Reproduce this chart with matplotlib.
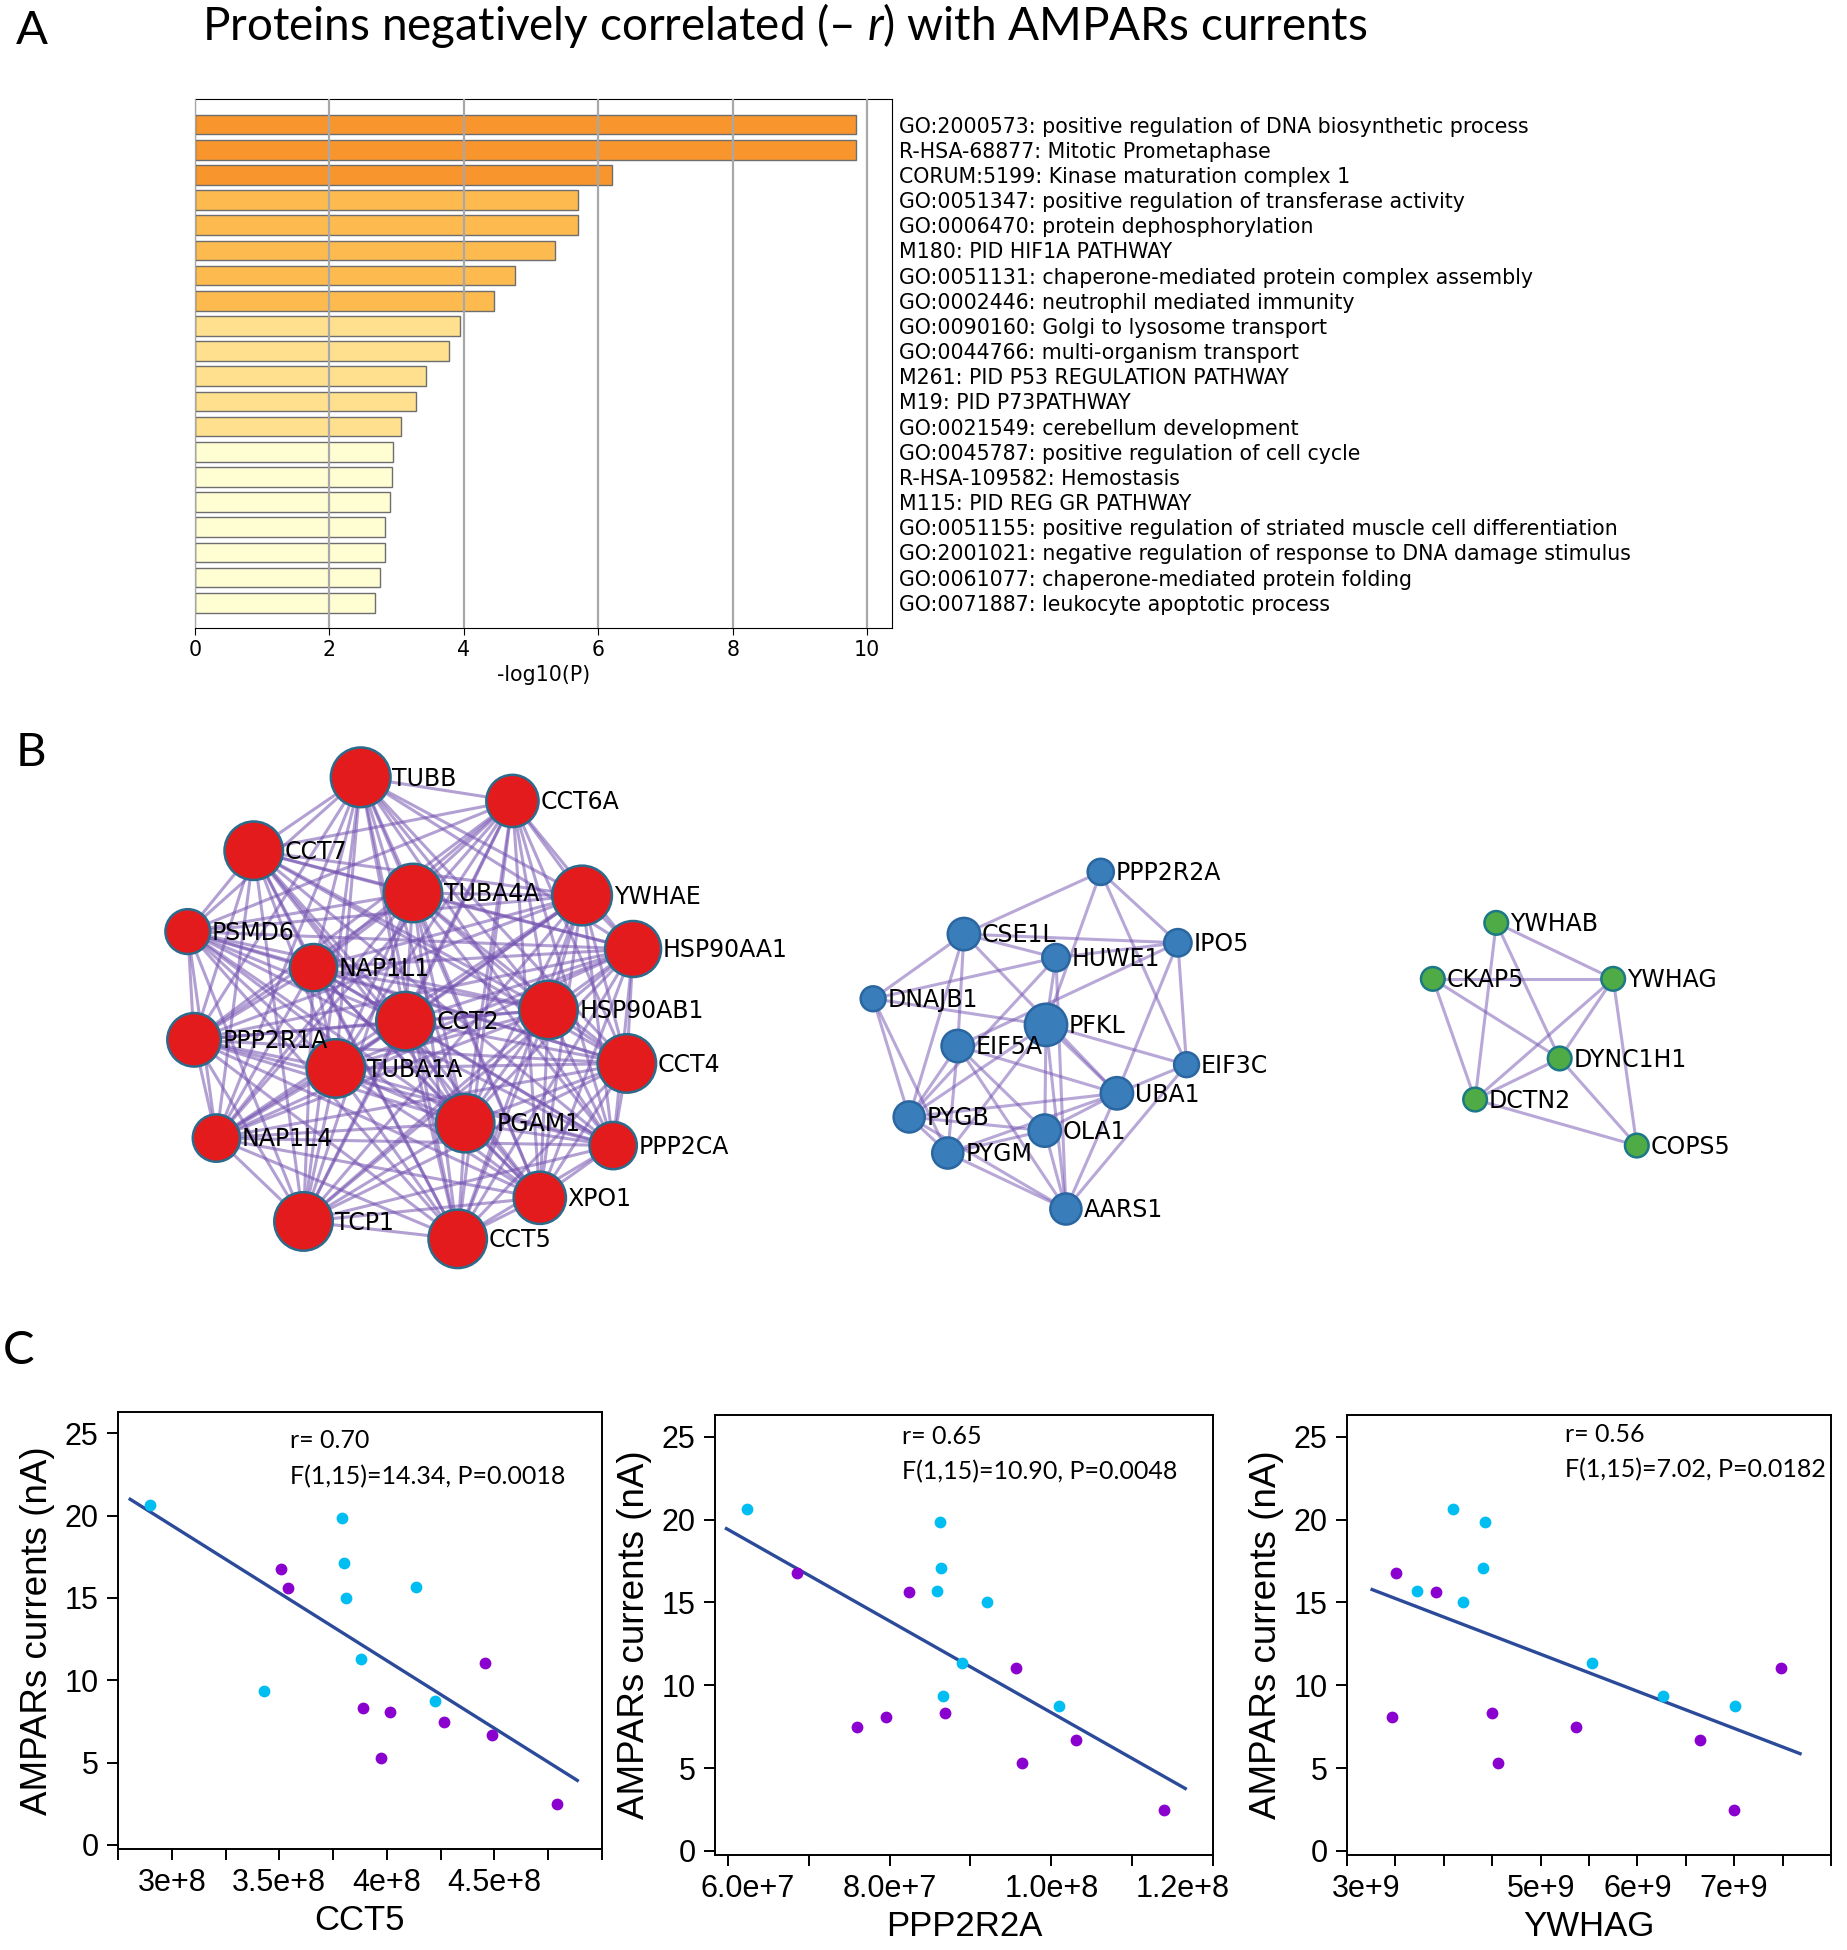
import itertools
import numpy as np
import matplotlib
matplotlib.use("Agg")
import matplotlib.pyplot as plt
from matplotlib.collections import LineCollection
from matplotlib.patches import Circle
from matplotlib.transforms import ScaledTranslation

plt.rcParams["mathtext.fontset"] = "custom"
plt.rcParams["mathtext.rm"] = "Lato"
plt.rcParams["mathtext.it"] = "Lato:italic"

# ---------------- A: enrichment ----------------
terms = [
    "GO:2000573: positive regulation of DNA biosynthetic process",
    "R-HSA-68877: Mitotic Prometaphase",
    "CORUM:5199: Kinase maturation complex 1",
    "GO:0051347: positive regulation of transferase activity",
    "GO:0006470: protein dephosphorylation",
    "M180: PID HIF1A PATHWAY",
    "GO:0051131: chaperone-mediated protein complex assembly",
    "GO:0002446: neutrophil mediated immunity",
    "GO:0090160: Golgi to lysosome transport",
    "GO:0044766: multi-organism transport",
    "M261: PID P53 REGULATION PATHWAY",
    "M19: PID P73PATHWAY",
    "GO:0021549: cerebellum development",
    "GO:0045787: positive regulation of cell cycle",
    "R-HSA-109582: Hemostasis",
    "M115: PID REG GR PATHWAY",
    "GO:0051155: positive regulation of striated muscle cell differentiation",
    "GO:2001021: negative regulation of response to DNA damage stimulus",
    "GO:0061077: chaperone-mediated protein folding",
    "GO:0071887: leukocyte apoptotic process",
]
neg_log_p = [9.84, 9.84, 6.20, 5.69, 5.69, 5.36, 4.76, 4.45, 3.94, 3.78,
             3.44, 3.28, 3.07, 2.95, 2.93, 2.90, 2.82, 2.82, 2.75, 2.67]

# ---------------- B: networks (layout coordinates) ----------------
red_names = ["TUBB", "CCT6A", "CCT7", "TUBA4A", "YWHAE", "PSMD6", "HSP90AA1",
             "NAP1L1", "CCT2", "HSP90AB1", "PPP2R1A", "TUBA1A", "CCT4", "PGAM1",
             "PPP2CA", "NAP1L4", "XPO1", "TCP1", "CCT5"]
red_x = [290, 412, 204, 332, 468, 151, 509, 252, 326, 441, 156, 270, 504, 374,
         493, 174, 434, 244, 368]
red_y = [625, 644, 684, 718, 720, 749, 763, 778, 821, 812, 836, 859, 855, 903,
         921, 915, 963, 982, 996]
red_r = [24, 21, 23.5, 23.5, 24, 18, 22.5, 19, 23.5, 23.5, 21.5, 23.5, 23.5,
         23.5, 19, 19, 21, 23.5, 23.5]

blue_names = ["PPP2R2A", "CSE1L", "HUWE1", "IPO5", "DNAJB1", "PFKL", "EIF5A",
              "EIF3C", "UBA1", "PYGB", "OLA1", "PYGM", "AARS1"]
blue_x = [885, 775, 849, 947, 702, 841, 770, 954, 898, 731, 840, 762, 857]
blue_y = [701, 751, 770, 758, 803, 824, 841, 856, 879, 898, 909, 927, 972]
blue_r = [10.5, 13, 11, 11, 10, 17, 13, 10, 13, 12.5, 13, 12.5, 12.5]
blue_edges = [
    ("PPP2R2A", "CSE1L"), ("PPP2R2A", "IPO5"), ("PPP2R2A", "PFKL"), ("PPP2R2A", "EIF3C"),
    ("CSE1L", "IPO5"), ("CSE1L", "HUWE1"), ("CSE1L", "DNAJB1"), ("CSE1L", "EIF5A"),
    ("CSE1L", "PYGB"), ("CSE1L", "UBA1"), ("HUWE1", "DNAJB1"), ("HUWE1", "IPO5"),
    ("HUWE1", "PFKL"), ("HUWE1", "PYGB"), ("HUWE1", "AARS1"), ("IPO5", "EIF3C"),
    ("IPO5", "UBA1"), ("IPO5", "EIF5A"), ("DNAJB1", "PFKL"), ("DNAJB1", "PYGB"),
    ("DNAJB1", "PYGM"), ("PFKL", "EIF3C"), ("PFKL", "OLA1"), ("PFKL", "UBA1"),
    ("PFKL", "PYGB"), ("PFKL", "PYGM"), ("PFKL", "AARS1"), ("EIF5A", "PYGB"),
    ("EIF5A", "PYGM"), ("EIF5A", "UBA1"), ("EIF5A", "OLA1"), ("EIF5A", "AARS1"),
    ("UBA1", "EIF3C"), ("UBA1", "PYGB"), ("UBA1", "OLA1"), ("UBA1", "PYGM"),
    ("UBA1", "AARS1"), ("OLA1", "PYGB"), ("OLA1", "PYGM"), ("OLA1", "AARS1"),
    ("PYGB", "PYGM"), ("PYGB", "AARS1"), ("PYGM", "AARS1"), ("EIF3C", "AARS1"),
]

green_names = ["YWHAB", "CKAP5", "YWHAG", "DYNC1H1", "DCTN2", "COPS5"]
green_x = [1203, 1152, 1297, 1254, 1186, 1316]
green_y = [742, 787, 787, 851, 884, 921]
green_r = [9.5, 9.5, 9.5, 9.5, 9.5, 9.5]
green_edges = [
    ("YWHAB", "YWHAG"), ("YWHAB", "DCTN2"), ("YWHAB", "DYNC1H1"), ("CKAP5", "YWHAG"),
    ("CKAP5", "DCTN2"), ("CKAP5", "DYNC1H1"), ("YWHAG", "DCTN2"), ("YWHAG", "DYNC1H1"),
    ("YWHAG", "COPS5"), ("DYNC1H1", "DCTN2"), ("DYNC1H1", "COPS5"), ("DCTN2", "COPS5"),
]

# ---------------- C: correlations ----------------
amp_cyan = [20.65, 19.83, 17.1, 15.68, 15.0, 11.32, 9.32, 8.72]
amp_purple = [16.75, 15.63, 11.05, 8.33, 8.1, 7.45, 6.67, 5.3, 2.46]
cct5_cyan = [2.901e8, 3.791e8, 3.800e8, 4.134e8, 3.810e8, 3.881e8, 3.427e8, 4.226e8]
cct5_purple = [3.507e8, 3.539e8, 4.455e8, 3.890e8, 4.013e8, 4.267e8, 4.489e8, 3.972e8, 4.791e8]
ppp2r2a_cyan = [6.24e7, 8.62e7, 8.64e7, 8.59e7, 9.20e7, 8.89e7, 8.66e7, 1.010e8]
ppp2r2a_purple = [6.86e7, 8.24e7, 9.57e7, 8.69e7, 7.96e7, 7.60e7, 1.030e8, 9.64e7, 1.140e8]
ywhag_cyan = [4.10e9, 4.43e9, 4.41e9, 3.72e9, 4.20e9, 5.53e9, 6.26e9, 7.01e9]
ywhag_purple = [3.51e9, 3.92e9, 7.48e9, 4.50e9, 3.46e9, 5.37e9, 6.65e9, 4.56e9, 7.00e9]

stats = [("r= 0.70", "F(1,15)=14.34, P=0.0018"),
         ("r= 0.65", "F(1,15)=10.90, P=0.0048"),
         ("r= 0.56", "F(1,15)=7.02, P=0.0182")]

fig = plt.figure(figsize=(18.47, 19.5), dpi=100)

# panel letters and title
for letter, (lx, ly) in zip("ABC", [(0.017, 0.984), (0.017, 0.614), (0.010, 0.307)]):
    fig.text(lx, ly, letter, fontsize=34, family="Lato", va="center", ha="center")
fig.text(0.425, 0.987, "Proteins negatively correlated (– $\\mathit{r}$) with AMPARs currents",
         fontsize=33, family="Lato", ha="center", va="center")

# ---- A ----
ax_a = fig.add_axes([0.1056, 0.678, 0.3774, 0.271])
bins = [3, 4, 6]
palette = ["#FFFDD2", "#FEE08F", "#FDBA4E", "#F8962D"]
colors = [palette[i] for i in np.digitize(neg_log_p, bins)]
ypos = np.arange(len(terms))
ax_a.barh(ypos, neg_log_p, height=0.78, color=colors, edgecolor="#6e6e6e", linewidth=1.0, zorder=2)
ax_a.set_ylim(len(terms), -1)
ax_a.set_xlim(0, 10.37)
ax_a.set_xticks([0, 2, 4, 6, 8, 10])
ax_a.xaxis.grid(True, color="#a8a8a8", linewidth=1.6, zorder=3)
ax_a.set_axisbelow(False)
ax_a.yaxis.tick_right()
ax_a.set_yticks(ypos)
ax_a.set_yticklabels(terms, fontsize=14.8)
ax_a.tick_params(axis="y", length=0, pad=5)
ax_a.tick_params(axis="x", labelsize=14.8, length=5)
ax_a.set_xlabel("-log10(P)", fontsize=14.8)

# ---- B ----
ax_b = fig.add_axes([0, 0.343, 1, 0.2807])
ax_b.set_xlim(0, 1485)
ax_b.set_ylim(1030, 590)
ax_b.axis("off")


def draw_cluster(names, xs, ys, rs, edges, face, outline, alpha):
    pos = {n: (x, y) for n, x, y in zip(names, xs, ys)}
    segs = [[pos[a], pos[b]] for a, b in edges]
    ax_b.add_collection(LineCollection(segs, colors="#7352b0", linewidths=2.2,
                                       alpha=alpha, zorder=1))
    for n, x, y, r in zip(names, xs, ys, rs):
        ax_b.add_patch(Circle((x, y), r, facecolor=face, edgecolor=outline,
                              linewidth=1.8, zorder=2))
        ax_b.text(x + r + 1.5, y + 1, n, fontsize=17, family="DejaVu Sans",
                  ha="left", va="center", zorder=3)


red_edges = list(itertools.combinations(red_names, 2))
draw_cluster(red_names, red_x, red_y, red_r, red_edges, "#E41B1D", "#2b6b8c", 0.55)
draw_cluster(blue_names, blue_x, blue_y, blue_r, blue_edges, "#3a7dbb", "#2a66a0", 0.5)
draw_cluster(green_names, green_x, green_y, green_r, green_edges, "#4fab45", "#1c7886", 0.5)

# ---- C ----
panels = [
    dict(rect=[0.0639, 0.0518, 0.2620, 0.2241], xc=cct5_cyan, xp=cct5_purple, label="CCT5",
         xlim=(2.75e8, 5.0e8), ticks=np.arange(2.75e8, 5.01e8, 0.25e8),
         labels=["", "3e+8", "", "3.5e+8", "", "4e+8", "", "4.5e+8", "", ""],
         shift={}, txt=(0.355, 0.935, 0.852)),
    dict(rect=[0.3871, 0.0487, 0.2696, 0.2256], xc=ppp2r2a_cyan, xp=ppp2r2a_purple, label="PPP2R2A",
         xlim=(5.84e7, 1.2e8), ticks=np.arange(6e7, 1.201e8, 1e7),
         labels=["6.0e+7", "", "8.0e+7", "", "1.0e+8", "", "1.2e+8"],
         shift={0: 20, 6: -30}, txt=(0.375, 0.952, 0.872)),
    dict(rect=[0.7293, 0.0487, 0.2620, 0.2256], xc=ywhag_cyan, xp=ywhag_purple, label="YWHAG",
         xlim=(3e9, 8e9), ticks=np.arange(3e9, 8.01e9, 0.5e9),
         labels=["3e+9", "", "", "", "5e+9", "", "6e+9", "", "7e+9", "", ""],
         shift={0: 19}, txt=(0.45, 0.955, 0.875)),
]

for p, (r_txt, f_txt) in zip(panels, stats):
    ax = fig.add_axes(p["rect"])
    ax.scatter(p["xc"], amp_cyan, s=72, color="#00bdf2", zorder=3, linewidths=0)
    ax.scatter(p["xp"], amp_purple, s=72, color="#8a00cf", zorder=3, linewidths=0)
    xs = np.array(p["xc"] + p["xp"])
    ys = np.array(amp_cyan + amp_purple)
    slope, icpt = np.polyfit(xs, ys, 1)
    span = xs.max() - xs.min()
    lx = np.array([xs.min() - 0.05 * span, xs.max() + 0.05 * span])
    ax.plot(lx, slope * lx + icpt, color="#2c4a9a", linewidth=2.4, zorder=2)
    ax.set_xlim(*p["xlim"])
    ax.set_ylim(-0.25, 26.3)
    ax.set_yticks([0, 5, 10, 15, 20, 25])
    ax.set_xticks(p["ticks"])
    ax.set_xticklabels(p["labels"])
    ax.tick_params(direction="out", length=8, width=1.4, labelsize=22, pad=6)
    for lab in ax.get_yticklabels() + ax.get_xticklabels():
        lab.set_family("Liberation Sans")
    for i, dx in p["shift"].items():
        lab = ax.get_xticklabels()[i]
        lab.set_transform(lab.get_transform() + ScaledTranslation(dx / 100, 0, fig.dpi_scale_trans))
    for s in ax.spines.values():
        s.set_linewidth(1.4)
    ax.set_xlabel(p["label"], fontsize=25, family="Liberation Sans", labelpad=4)
    ax.set_ylabel("AMPARs currents (nA)", fontsize=26.5, family="Liberation Sans", labelpad=7)
    tx, ty1, ty2 = p["txt"]
    ax.text(tx, ty1, r_txt, transform=ax.transAxes, fontsize=18, family="Lato", va="center")
    ax.text(tx, ty2, f_txt, transform=ax.transAxes, fontsize=18, family="Lato", va="center")

fig.savefig("out.png", dpi=100)
